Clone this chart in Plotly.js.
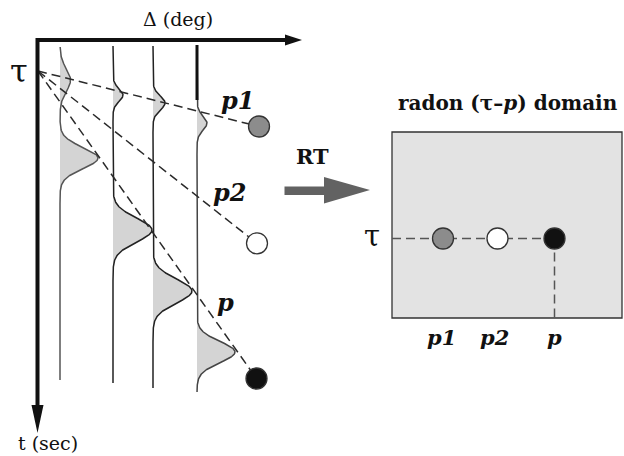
<!DOCTYPE html>
<html>
<head>
<meta charset="utf-8">
<script src="https://cdn.plot.ly/plotly-3.0.1.min.js"></script>
<style>html,body{margin:0;padding:0;background:#fff;}#chart{width:624px;height:456px;}</style>
</head>
<body>
<div id="chart"></div>
<script>
// ---- data (diagram units: figure pixels, y downward) ----
const traceDelta  = [60, 113, 153, 197];      // trace baseline positions (Δ)
const traceTop    = [47, 46, 46, 45];
const traceBottom = [380, 383, 388, 392];
const p1Time  = [80, 95, 103, 123];           // p1 event times on each trace
const p1Amp   = [10.5, 10, 12, 10];
const p1Width = [16, 9, 10, 10];
const pTime   = [158, 230, 291, 352];         // p event times on each trace
const pAmp    = [38, 39, 39, 38];
const pWidth  = [15, 17, 17, 15];
const tauPoint = [38, 71];
const eventNames = ['p1', 'p2', 'p'];
const circleX = [259, 257, 256.5];
const circleY = [126.5, 243.3, 378.5];
const radonP   = [443, 497.5, 554.5];
const radonTau = 238.5;
const radonBox = [392, 622, 132, 318];
const circleFill = ['#8c8c8c', '#ffffff', '#111111'];

const traces = [];
function curveX(i, y) {
  let x = traceDelta[i];
  x += p1Amp[i] * Math.exp(-Math.pow((y - p1Time[i]) / p1Width[i], 2));
  x += pAmp[i] * Math.exp(-Math.pow((y - pTime[i]) / pWidth[i], 2));
  return x;
}
// shaded wavelet lobes
for (let i = 0; i < traceDelta.length; i++) {
  [[p1Time[i], p1Width[i]], [pTime[i], pWidth[i]]].forEach(([tc, w]) => {
    const xs = [], ys = [];
    const y0 = Math.max(traceTop[i], tc - 3 * w), y1 = Math.min(traceBottom[i], tc + 3 * w);
    for (let y = y0; y <= y1; y += 0.5) { xs.push(curveX(i, y)); ys.push(y); }
    xs.push(traceDelta[i]); ys.push(y1);
    xs.push(traceDelta[i]); ys.push(y0);
    traces.push({x: xs, y: ys, mode: 'lines', fill: 'toself', fillcolor: '#d4d4d4',
      line: {width: 0}, hoverinfo: 'skip', showlegend: false});
  });
}
// trace lines
const traceColors = ['#555555', '#222222', '#222222', '#444444'];
for (let i = 0; i < traceDelta.length; i++) {
  const xs = [], ys = [];
  for (let y = traceTop[i]; y <= traceBottom[i]; y += 0.5) { xs.push(curveX(i, y)); ys.push(y); }
  traces.push({x: xs, y: ys, mode: 'lines', line: {color: traceColors[i], width: 1.5},
    hoverinfo: 'skip', showlegend: false});
}
// thick top of last trace
traces.push({x: [traceDelta[3], traceDelta[3]], y: [traceTop[3], 100], mode: 'lines',
  line: {color: '#111', width: 3}, hoverinfo: 'skip', showlegend: false});
// dashed event lines
for (let k = 0; k < eventNames.length; k++) {
  traces.push({x: [tauPoint[0], circleX[k]], y: [tauPoint[1], circleY[k]], mode: 'lines',
    line: {color: '#2a2a2a', width: 1.5, dash: '9px,5px'}, hoverinfo: 'skip', showlegend: false});
}
// radon dashed lines
traces.push({x: [radonBox[0], radonP[2]], y: [radonTau, radonTau], mode: 'lines',
  line: {color: '#555', width: 1.5, dash: '9px,5px'}, hoverinfo: 'skip', showlegend: false});
traces.push({x: [radonP[2], radonP[2]], y: [radonTau, radonBox[3]], mode: 'lines',
  line: {color: '#555', width: 1.5, dash: '9px,5px'}, hoverinfo: 'skip', showlegend: false});
// circles
traces.push({x: circleX, y: circleY, mode: 'markers',
  marker: {size: 21, color: circleFill, line: {color: '#333', width: 1.3}},
  hoverinfo: 'skip', showlegend: false});
traces.push({x: radonP, y: radonP.map(() => radonTau), mode: 'markers',
  marker: {size: 21, color: circleFill, line: {color: '#333', width: 1.3}},
  hoverinfo: 'skip', showlegend: false});

const F = 'DejaVu Serif';
function ann(x, y, text, size, extra) {
  return Object.assign({x, y, xref: 'x', yref: 'y', text, showarrow: false,
    xanchor: 'center', yanchor: 'middle', font: {family: F, size, color: '#111'}}, extra || {});
}
const annotations = [
  ann(178, 19, 'Δ (deg)', 19),
  ann(48, 443, 't (sec)', 19),
  ann(19, 71, 'τ', 32),
  ann(372, 236, 'τ', 29),
  ann(312, 156, '<b>RT</b>', 21),
  ann(508, 103, '<b>radon (τ–<i>p</i>) domain</b>', 20),
  ann(237, 100, '<b><i>p1</i></b>', 24),
  ann(229, 192, '<b><i>p2</i></b>', 24),
  ann(225, 302, '<b><i>p</i></b>', 24),
  ann(441, 337, '<b><i>p1</i></b>', 21),
  ann(494, 337, '<b><i>p2</i></b>', 21),
  ann(554, 337, '<b><i>p</i></b>', 21)
];

const shapes = [
  {type: 'rect', xref: 'x', yref: 'y', x0: radonBox[0], x1: radonBox[1], y0: radonBox[2], y1: radonBox[3],
    fillcolor: '#e3e3e3', line: {color: '#333', width: 1.3}, layer: 'below'},
  // axes
  {type: 'line', xref: 'x', yref: 'y', x0: 36, x1: 287, y0: 40, y1: 40, line: {color: '#111', width: 4}},
  {type: 'path', xref: 'x', yref: 'y', path: 'M 285 34.5 L 302 40 L 285 45.5 Z', fillcolor: '#111', line: {width: 0}},
  {type: 'line', xref: 'x', yref: 'y', x0: 37.5, x1: 37.5, y0: 38, y1: 407, line: {color: '#111', width: 4}},
  {type: 'path', xref: 'x', yref: 'y', path: 'M 31.5 405 L 37.5 433 L 43.5 405 Z', fillcolor: '#111', line: {width: 0}},
  // RT arrow
  {type: 'path', xref: 'x', yref: 'y',
    path: 'M 284.5 186.5 L 324 186.5 L 324 177 L 370 190 L 324 203.5 L 324 195 L 284.5 195 Z',
    fillcolor: '#626262', line: {width: 0}}
];

const layout = {
  width: 624, height: 456, margin: {l: 0, r: 0, t: 0, b: 0},
  paper_bgcolor: '#fff', plot_bgcolor: '#fff',
  xaxis: {range: [0, 624], visible: false, fixedrange: true},
  yaxis: {range: [456, 0], visible: false, fixedrange: true},
  showlegend: false, annotations, shapes
};
Plotly.newPlot('chart', traces, layout, {staticPlot: true});
</script>
</body>
</html>
